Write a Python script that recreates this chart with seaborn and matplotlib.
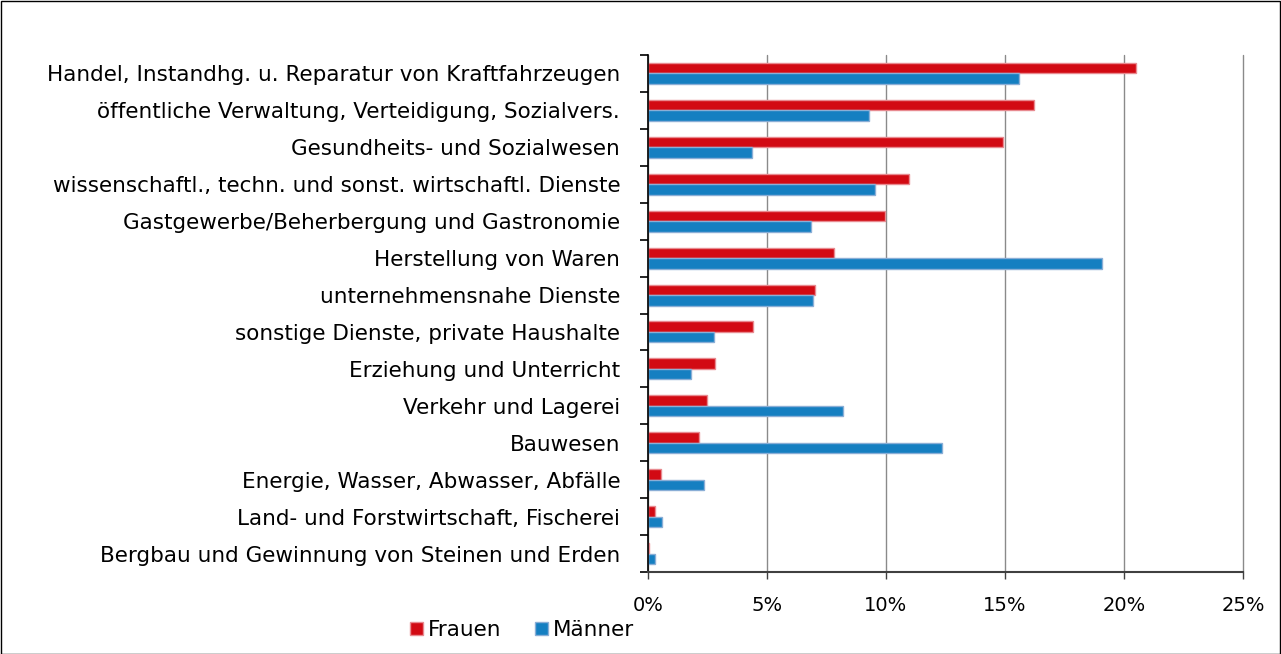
import matplotlib
matplotlib.use("Agg")
import matplotlib.pyplot as plt
import seaborn as sns
import pandas as pd
from matplotlib.patches import Rectangle, Patch
from matplotlib.ticker import FixedLocator, FuncFormatter

categories = [
    "Handel, Instandhg. u. Reparatur von Kraftfahrzeugen",
    "öffentliche Verwaltung, Verteidigung, Sozialvers.",
    "Gesundheits- und Sozialwesen",
    "wissenschaftl., techn. und sonst. wirtschaftl. Dienste",
    "Gastgewerbe/Beherbergung und Gastronomie",
    "Herstellung von Waren",
    "unternehmensnahe Dienste",
    "sonstige Dienste, private Haushalte",
    "Erziehung und Unterricht",
    "Verkehr und Lagerei",
    "Bauwesen",
    "Energie, Wasser, Abwasser, Abfälle",
    "Land- und Forstwirtschaft, Fischerei",
    "Bergbau und Gewinnung von Steinen und Erden",
]
frauen = [20.5, 16.2, 14.9, 10.95, 9.97, 7.8, 7.0, 4.4, 2.8, 2.46, 2.15, 0.53, 0.31, 0.05]
maenner = [15.6, 9.28, 4.38, 9.55, 6.86, 19.07, 6.92, 2.78, 1.79, 8.18, 12.35, 2.34, 0.57, 0.29]
series_names = ["Frauen", "Männer"]
x_ticks = [0, 5, 10, 15, 20, 25]

df = pd.DataFrame({
    "Branche": categories * 2,
    "Anteil": frauen + maenner,
    "Geschlecht": [series_names[0]] * len(categories) + [series_names[1]] * len(categories),
})

sns.set_style("white")
plt.rcParams["font.family"] = ["DejaVu Sans"]
plt.rcParams["text.color"] = "#000000"

face = {"Frauen": "#D20A13", "Männer": "#157FC1"}
edge = {"Frauen": "#E88A90", "Männer": "#8AAED6"}

fig = plt.figure(figsize=(12.81, 6.54), dpi=100)
ax = fig.add_axes([648 / 1281, 1 - 572 / 654, (1243 - 648) / 1281, (572 - 55) / 654])

sns.barplot(data=df, y="Branche", x="Anteil", hue="Geschlecht", order=categories,
            hue_order=series_names, palette=face, orient="h", width=0.57,
            ax=ax, legend=False, saturation=1)

n = len(categories)
for i, p in enumerate(ax.patches[:2 * n]):
    name = series_names[i // n]
    p.set_edgecolor(edge[name])
    p.set_linewidth(1.0)

ax.set_xlim(0, 25)
ax.set_ylim(n - 0.5, -0.5)
ax.set_xlabel("")
ax.set_ylabel("")
ax.xaxis.set_major_locator(FixedLocator(x_ticks))
ax.xaxis.set_major_formatter(FuncFormatter(lambda v, pos: f"{v:.0f}%"))
ax.grid(axis="x", color="#8a8a8a", linewidth=1.0)
ax.grid(axis="y", visible=False)
for gl in ax.get_xgridlines():
    gl.set_clip_on(False)
ax.set_axisbelow(True)

for s in ["top", "right"]:
    ax.spines[s].set_visible(False)
ax.spines["left"].set_color("#000000")
ax.spines["left"].set_linewidth(1.2)
ax.spines["bottom"].set_color("#404040")
ax.spines["bottom"].set_linewidth(1.5)

ax.tick_params(axis="y", which="major", left=False, length=0, pad=20, labelsize=15.5,
               labelcolor="#000000")
ax.yaxis.set_minor_locator(FixedLocator([i - 0.5 for i in range(n + 1)]))
ax.tick_params(axis="y", which="minor", left=True, length=6, width=1.2, color="#000000",
               direction="out")
ax.tick_params(axis="x", which="major", bottom=True, length=5, width=1.0, color="#404040",
               direction="out", pad=12, labelsize=14, labelcolor="#000000")

handles = [Patch(facecolor=face[s], edgecolor=edge[s], label=s) for s in series_names]
fig.legend(handles=handles, loc="center", bbox_to_anchor=(522 / 1281, 1 - 630 / 654),
           ncol=2, frameon=False, fontsize=15.5, handlelength=0.6, handleheight=0.6,
           handletextpad=0.2, columnspacing=1.6, borderaxespad=0, labelcolor="#000000")

fig.patches.append(Rectangle((0.5 / 1281, 0.5 / 654), 1 - 1.5 / 1281, 1 - 1.5 / 654,
                             transform=fig.transFigure, fill=False, edgecolor="#000000",
                             linewidth=1.0))

fig.savefig("out.png", dpi=100)
